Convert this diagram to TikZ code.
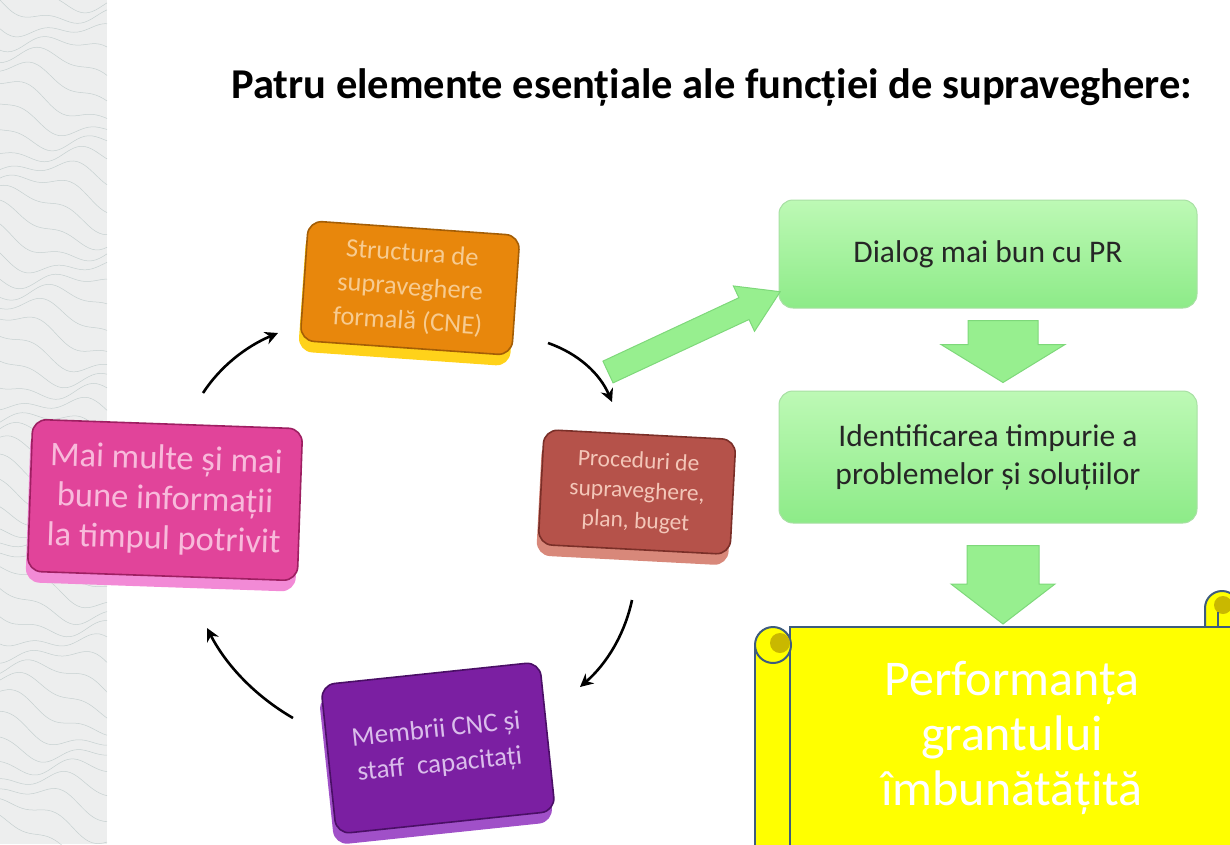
\documentclass[tikz,border=0pt]{standalone}
\usepackage{fontspec}
\setmainfont{Carlito}
\usetikzlibrary{calc}
\usetikzlibrary{shadows}
\usetikzlibrary{arrows.meta}
\definecolor{stripbg}{HTML}{EDEEEE}
\definecolor{contourln}{HTML}{C6D0D0}
\definecolor{cneface}{HTML}{E8870C}
\definecolor{cneedge}{HTML}{A45E06}
\definecolor{cnebevel}{HTML}{FFD21A}
\definecolor{cnetext}{HTML}{F7CB90}
\definecolor{procface}{HTML}{B5524A}
\definecolor{procedge}{HTML}{7A2F28}
\definecolor{procbevel}{HTML}{D8887A}
\definecolor{proctext}{HTML}{F3C6B8}
\definecolor{infoface}{HTML}{E1449A}
\definecolor{infoedge}{HTML}{9E1F62}
\definecolor{infobevel}{HTML}{F28AD6}
\definecolor{infotext}{HTML}{F8BADB}
\definecolor{cncface}{HTML}{7B1FA2}
\definecolor{cncedge}{HTML}{4A0F66}
\definecolor{cncbevel}{HTML}{A050C8}
\definecolor{cnctext}{HTML}{DABDEB}
\definecolor{greentop}{HTML}{BDF9B5}
\definecolor{greenbot}{HTML}{8DEB88}
\definecolor{greenedge}{HTML}{A8E0A4}
\definecolor{arrowfill}{HTML}{97EF8F}
\definecolor{arrowedge}{HTML}{7ED87A}
\definecolor{scrollfill}{HTML}{FFFF00}
\definecolor{scrolledge}{HTML}{3E5C7E}
\definecolor{scrollcurl}{HTML}{C9B800}

\begin{document}
\begin{tikzpicture}[x=1pt,y=-1pt,
panel/.style = {rounded corners=14pt, line width=1.6pt, align=center, inner sep=0pt},
bevel/.style = {drop shadow={shadow xshift=-2pt, shadow yshift=-11pt, opacity=1, fill=#1}},
greenbox/.style = {rounded corners=14pt, line width=1pt, draw=greenedge,
  top color=greentop, bottom color=greenbot, minimum width=418pt, align=center,
  text=black!85, font=\fontsize{31.5}{38}\selectfont},
greenarrow/.style = {fill=arrowfill, draw=arrowedge, line width=1pt},
cycarrow/.style = {line width=2.6pt, -{Stealth[length=13pt,width=13pt]}},
scroll/.style = {fill=scrollfill, draw=scrolledge, line width=2pt},
contour/.style = {draw=contourln, line width=0.5pt}
]
\useasboundingbox (0,0) rectangle (1230,844);
\fill[white] (0,0) rectangle (1230,844);

% left strip
\fill[stripbg] (0,0) rectangle (107,844);
\begin{scope}
\clip (0,0) rectangle (107,844);
\foreach \k in {-2,...,46}
  \draw[contour] plot[domain=0:107, samples=30, smooth]
    (\x, {\k*18 + 0.2*\x + 11*sin(2.1*\x+53*\k) + 5*sin(5.5*\x+23*\k)});
\end{scope}

\node (title) at (712,87) {\fontsize{42.5}{48}\selectfont\bfseries Patru elemente esențiale ale funcției de supraveghere:};

% the four elements
\node [panel, bevel=cnebevel, fill=cneface, draw=cneedge, text=cnetext,
  minimum width=212pt, minimum height=120pt, rotate=-4,
  font=\fontsize{26.5}{34}\selectfont] (cne) at (410,288)
  {Structura de\\supraveghere\\formală (CNE)};
\node [panel, bevel=procbevel, fill=procface, draw=procedge, text=proctext,
  minimum width=192pt, minimum height=115pt, rotate=-3,
  font=\fontsize{23.5}{30}\selectfont] (proc) at (637,492)
  {Proceduri de\\supraveghere,\\plan, buget};
\node [panel, bevel=infobevel, fill=infoface, draw=infoedge, text=infotext,
  minimum width=270pt, minimum height=152pt, rotate=-2,
  font=\fontsize{34.5}{40}\selectfont] (info) at (165,500)
  {Mai multe și mai\\bune informații\\la timpul potrivit};
\node [panel, bevel=cncbevel, fill=cncface, draw=cncedge, text=cnctext,
  minimum width=220pt, minimum height=150pt, rotate=6,
  font=\fontsize{27}{35}\selectfont] (cnc) at (438,748)
  {Membrii CNC și\\staff~~capacitați};

% cycle arrows
\coordinate (a1) at ($(info.center)+(38,-107)$);
\coordinate (b1) at ($(cne.center)+(-132,45)$);
\coordinate (a2) at ($(cne.center)+(138,55)$);
\coordinate (b2) at ($(proc.center)+(-25,-90)$);
\coordinate (a3) at ($(proc.center)+(-5,108)$);
\coordinate (b3) at ($(cnc.center)+(142,-61)$);
\coordinate (a4) at ($(cnc.center)+(-145,-30)$);
\coordinate (b4) at ($(info.center)+(42,128)$);
\draw[cycarrow] (a1) .. controls ($(a1)!.33!(b1)+(-8,-6)$) and ($(a1)!.67!(b1)+(-8,-6)$) .. (b1);
\draw[cycarrow] (a2) .. controls ($(a2)!.33!(b2)+(9,-9)$) and ($(a2)!.67!(b2)+(9,-9)$) .. (b2);
\draw[cycarrow] (a3) .. controls ($(a3)!.33!(b3)+(10,5)$) and ($(a3)!.67!(b3)+(10,5)$) .. (b3);
\draw[cycarrow] (a4) .. controls ($(a4)!.33!(b4)+(-9,8)$) and ($(a4)!.67!(b4)+(-9,8)$) .. (b4);

% right column
\node [greenbox, minimum height=108pt] (dialog) at (988,254) {Dialog mai bun cu PR};
\node [greenbox, minimum height=132pt] (ident) at (988,457)
  {Identificarea timpurie a\\problemelor și soluțiilor};

\coordinate (ga) at ($(cne.center)+(198,84)$);
\begin{scope}[shift={(ga)}, rotate=25]
\draw[greenarrow] (0,-12) -- (150,-12) -- (150,-25) -- (190,0) -- (150,25) -- (150,12) -- (0,12) -- cycle;
\end{scope}

\coordinate (d1t) at ($(dialog.south)+(15,12)$);
\coordinate (d1b) at ($(ident.north)+(15,-8)$);
\draw[greenarrow] ($(d1t)+(-35,0)$) -- ($(d1t)+(35,0)$) -- ($(d1b)+(35,-38)$)
  -- ($(d1b)+(62,-38)$) -- (d1b) -- ($(d1b)+(-62,-38)$) -- ($(d1b)+(-35,-38)$) -- cycle;

% scroll
\draw[scroll] (1205,628) -- (1205,608) arc (180:360:17) -- (1239,628) -- cycle;
\fill[scrollcurl] (1223,605) circle (9);
\draw[scrolledge, line width=1.5pt] (1218,612) -- (1218,628);
\node [scroll, minimum width=444pt, minimum height=222pt, text=white, align=center,
  font=\fontsize{50}{55}\selectfont] (perf) at (1012,738)
  {Performanța\\grantului\\îmbunătățită};
\draw[scroll] (755,645) -- (755,850) -- (790,850) -- (790,645);
\draw[scroll] (773,645) circle (18);
\fill[scrollcurl] (780,643) circle (10);

\coordinate (d2t) at ($(ident.south)+(15,22)$);
\coordinate (d2b) at ($(perf.north)+(-9,-2)$);
\draw[greenarrow] ($(d2t)+(-36,0)$) -- ($(d2t)+(36,0)$) -- ($(d2b)+(36,-40)$)
  -- ($(d2b)+(52,-40)$) -- (d2b) -- ($(d2b)+(-52,-40)$) -- ($(d2b)+(-36,-40)$) -- cycle;

\end{tikzpicture}
\end{document}
